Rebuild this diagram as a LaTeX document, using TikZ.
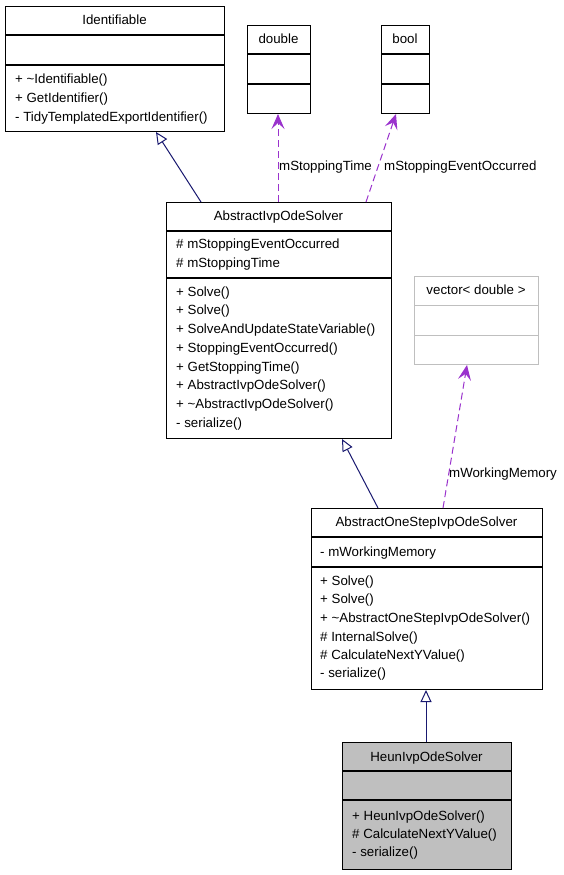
\documentclass[tikz,border=0pt]{standalone}
\usepackage{fontspec}
\setmainfont{Liberation Sans}
\usetikzlibrary{arrows.meta,calc}
\definecolor{inhcol}{HTML}{191970}
\definecolor{usecol}{HTML}{9A32CD}
\definecolor{hlcol}{HTML}{BFBFBF}
\begin{document}
\begin{tikzpicture}[x=1pt,y=-1pt,
  cls/.style={draw=black,line width=1pt,inner sep=0pt,anchor=north west},
  sepline/.style={line width=1.4pt},
  txt/.style={anchor=base west,inner sep=0pt,font=\fontsize{13.3}{16}\selectfont},
  ttl/.style={anchor=base,inner sep=0pt,font=\fontsize{13.3}{16}\selectfont},
  inhe/.style={draw=inhcol,line width=1pt,-{Triangle[open,length=12pt,width=11pt,fill=white]}},
  usee/.style={draw=usecol,line width=1pt,dash pattern=on 7pt off 4pt,-{Stealth[length=15pt,width=13pt,inset=6pt]}},
  lbl/.style={anchor=base west,inner sep=0pt,font=\fontsize{13.3}{16}\selectfont}]
\useasboundingbox (0,0) rectangle (564,875);
\fill[white] (0,0) rectangle (564,875);

% Identifiable
\node[cls,minimum width=219pt,minimum height=125pt] (ident) at (5,6) {};
\draw[sepline] (5,35) -- (224,35);
\draw[sepline] (5,65) -- (224,65);
\node[ttl] (identT) at (114.5,25) {Identifiable};
\node[txt] (identA) at (15,84) {+ \textasciitilde Identifiable()};
\node[txt] (identB) at (15,102) {+ GetIdentifier()};
\node[txt] (identC) at (15,121) {- TidyTemplatedExportIdentifier()};

% double
\node[cls,minimum width=63pt,minimum height=88pt] (dbl) at (247,25) {};
\draw[sepline] (247,54) -- (310,54);
\draw[sepline] (247,84) -- (310,84);
\node[ttl] (dblT) at (278.5,44) {double};

% bool
\node[cls,minimum width=48pt,minimum height=88pt] (bool) at (381,25) {};
\draw[sepline] (381,54) -- (429,54);
\draw[sepline] (381,84) -- (429,84);
\node[ttl] (boolT) at (405,44) {bool};

% AbstractIvpOdeSolver
\node[cls,minimum width=225pt,minimum height=236pt] (absivp) at (166,202) {};
\draw[sepline] (166,231) -- (391,231);
\draw[sepline] (166,278) -- (391,278);
\node[ttl] (absivpT) at (278.5,220) {AbstractIvpOdeSolver};
\node[txt] (a1) at (176,248) {\# mStoppingEventOccurred};
\node[txt] (a2) at (176,267) {\# mStoppingTime};
\node[txt] (a3) at (176,296) {+ Solve()};
\node[txt] (a4) at (176,314) {+ Solve()};
\node[txt] (a5) at (176,333) {+ SolveAndUpdateStateVariable()};
\node[txt] (a6) at (176,352) {+ StoppingEventOccurred()};
\node[txt] (a7) at (176,371) {+ GetStoppingTime()};
\node[txt] (a8) at (176,389) {+ AbstractIvpOdeSolver()};
\node[txt] (a9) at (176,408) {+ \textasciitilde AbstractIvpOdeSolver()};
\node[txt] (a10) at (176,427) {- serialize()};

% vector< double >
\node[cls,draw=hlcol,minimum width=124pt,minimum height=88pt] (vec) at (414,276) {};
\draw[sepline,draw=hlcol,line width=1pt] (414,305) -- (538,305);
\draw[sepline,draw=hlcol,line width=1pt] (414,335) -- (538,335);
\node[ttl] (vecT) at (476,294) {vector< double >};

% AbstractOneStepIvpOdeSolver
\node[cls,minimum width=231pt,minimum height=181pt] (onestep) at (311,508) {};
\draw[sepline] (311,537) -- (542,537);
\draw[sepline] (311,567) -- (542,567);
\node[ttl] (onestepT) at (426.5,526) {AbstractOneStepIvpOdeSolver};
\node[txt] (o1) at (320,556) {- mWorkingMemory};
\node[txt] (o2) at (320,585) {+ Solve()};
\node[txt] (o3) at (320,603) {+ Solve()};
\node[txt] (o4) at (320,622) {+ \textasciitilde AbstractOneStepIvpOdeSolver()};
\node[txt] (o5) at (320,641) {\# InternalSolve()};
\node[txt] (o6) at (320,659) {\# CalculateNextYValue()};
\node[txt] (o7) at (320,677) {- serialize()};

% HeunIvpOdeSolver
\node[cls,fill=hlcol,minimum width=169pt,minimum height=127pt] (heun) at (342,742) {};
\draw[sepline] (342,771) -- (511,771);
\draw[sepline] (342,800) -- (511,800);
\node[ttl] (heunT) at (426.5,761) {HeunIvpOdeSolver};
\node[txt] (h1) at (352,820) {+ HeunIvpOdeSolver()};
\node[txt] (h2) at (352,838) {\# CalculateNextYValue()};
\node[txt] (h3) at (352,856) {- serialize()};

% inheritance
\draw[inhe] ([xshift=35pt]absivp.north west) -- ([xshift=151pt]ident.south west);
\draw[inhe] ([xshift=67pt]onestep.north west) -- ([xshift=176pt]absivp.south west);
\draw[inhe] ([xshift=84pt]heun.north west) -- ([xshift=115pt]onestep.south west);

% usage
\draw[usee] ([xshift=112pt]absivp.north west) -- ([xshift=31pt]dbl.south west);
\draw[usee] ([xshift=200pt]absivp.north west) -- ([xshift=15pt]bool.south west);
\draw[usee] ([xshift=132pt]onestep.north west) -- ([xshift=53pt]vec.south west);
\node[lbl] (l1) at (279,170) {mStoppingTime};
\node[lbl] (l2) at (384,170) {mStoppingEventOccurred};
\node[lbl] (l3) at (449,477) {mWorkingMemory};
\end{tikzpicture}
\end{document}
